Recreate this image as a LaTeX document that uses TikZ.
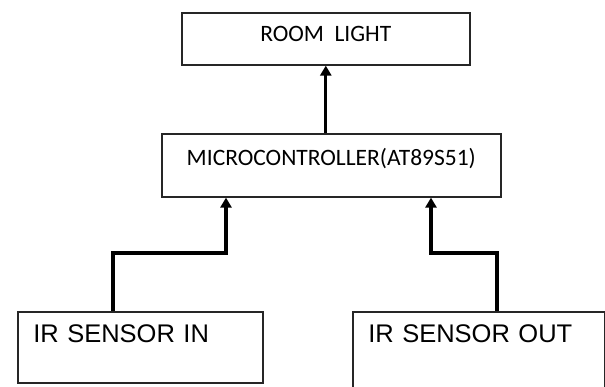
\documentclass[tikz,border=0pt]{standalone}
\usepackage{fontspec}
\setmainfont{Liberation Sans}
\newfontfamily\calfont{Carlito}
\usetikzlibrary{arrows.meta}

\tikzset{
  block/.style={draw=black!85, line width=1.6pt, inner xsep=0pt, inner ysep=0pt, fill=white},
  topbox/.style={block, anchor=north west, font=\calfont\fontsize{23.5}{28}\selectfont},
  sensorbox/.style={block, anchor=north west, inner xsep=15.5pt, align=left,
    text height=31pt, font=\fontsize{25.5}{30}\selectfont},
  link/.style={line width=3.2pt, -{Triangle[width=11pt,length=10pt]}}
}

\begin{document}
\begin{tikzpicture}[x=1pt,y=-1pt]
  \useasboundingbox (0,0) rectangle (605,387);

  \node[topbox, minimum width=288pt, text height=28.7pt, text depth=23.3pt] (room) at (181,12) {ROOM\ \ LIGHT};
  \node[topbox, minimum width=339pt, text height=32pt, text depth=31pt] (micro) at (161,133) {MICROCONTROLLER(AT89S51)};

  \node[sensorbox, text width=214pt, text depth=40pt] (irin) at (17,311) {IR SENSOR IN};
  \node[sensorbox, text width=221pt, text depth=90pt] (irout) at (352,311) {IR SENSOR OUT};

  % bends of the two sensor lines
  \coordinate (inlow) at (113,253);
  \coordinate (inup) at (226,253);
  \coordinate (outlow) at (497,253);
  \coordinate (outup) at (431,253);

  \draw[link] (micro.north -| room.south) -- (room.south);
  \draw[link] (irin.north -| inlow) -- (inlow) -- (inup) -- (micro.south -| inup);
  \draw[link] (irout.north -| outlow) -- (outlow) -- (outup) -- (micro.south -| outup);
\end{tikzpicture}
\end{document}
